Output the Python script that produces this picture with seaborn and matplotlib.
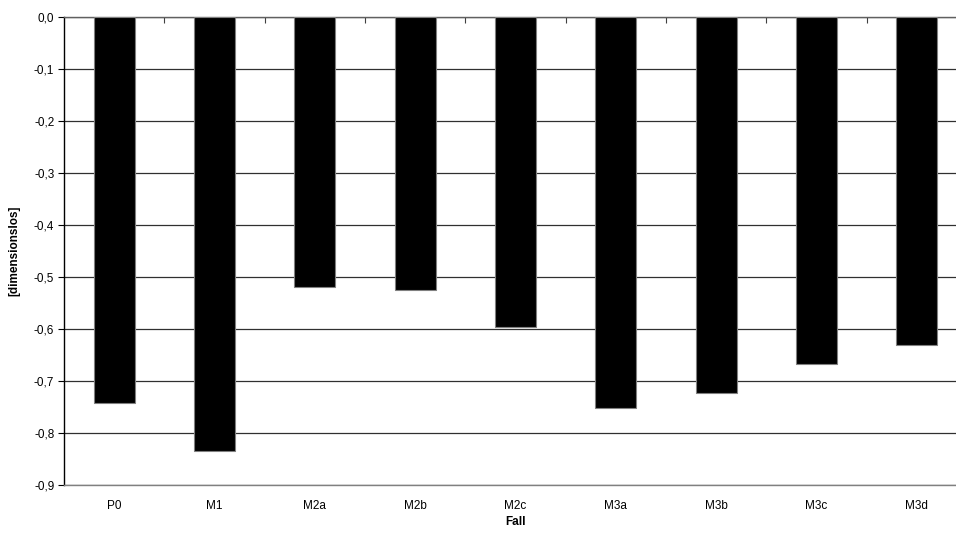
import numpy as np
import pandas as pd
import matplotlib
matplotlib.use("Agg")
import matplotlib.pyplot as plt
import seaborn as sns
from matplotlib.ticker import FuncFormatter, FixedLocator

# Data
cases = ["P0", "M1", "M2a", "M2b", "M2c", "M3a", "M3b", "M3c", "M3d"]
values = [-0.743, -0.834, -0.520, -0.525, -0.596, -0.753, -0.723, -0.667, -0.631]

df = pd.DataFrame({"Fall": cases, "value": values})

sns.set_theme(style="white")
plt.rcParams["font.family"] = ["Liberation Sans", "DejaVu Sans"]

fig = plt.figure(figsize=(9.56, 5.33), dpi=100)
# axes extend slightly past the right edge, as in the cropped original
ax = fig.add_axes([64 / 956, 1 - 485 / 533, 903 / 956, 468.5 / 533])

sns.barplot(data=df, x="Fall", y="value", color="black", width=0.41,
            edgecolor="#808080", linewidth=0.8, saturation=1, ax=ax, zorder=3)

ax.set_xlim(-0.5, len(cases) - 0.5)
ax.set_ylim(-0.9, 0)
ax.set_yticks(np.arange(-0.9, 0.01, 0.1))
ax.yaxis.set_major_formatter(FuncFormatter(lambda v, p: f"{v:.1f}".replace(".", ",").replace("-0,0", "0,0")))
ax.grid(axis="y", color="#303030", linewidth=0.9, zorder=0)

ax.spines["right"].set_visible(False)
ax.spines["left"].set_color("black")
ax.spines["top"].set_color("#606060")
ax.spines["bottom"].set_color("#808080")
for s in ["left", "top", "bottom"]:
    ax.spines[s].set_linewidth(1)

ax.tick_params(axis="y", which="major", left=True, length=4, width=0.8, color="black",
               labelsize=8.5, pad=3, labelcolor="black")
ax.tick_params(axis="x", which="major", bottom=False, top=False, labelsize=8.5, pad=5,
               labelcolor="black")
ax.xaxis.set_minor_locator(FixedLocator(np.arange(0.5, len(cases) - 0.5, 1)))
ax.tick_params(axis="x", which="minor", top=True, bottom=False, direction="in",
               length=4, width=0.8, color="#404040")

ax.set_xlabel("Fall", fontsize=8.5, fontweight="bold", labelpad=3, color="black")
ax.set_ylabel("[dimensionslos]", fontsize=8.5, fontweight="bold", labelpad=10, color="black")

fig.savefig("out.png", dpi=100)
